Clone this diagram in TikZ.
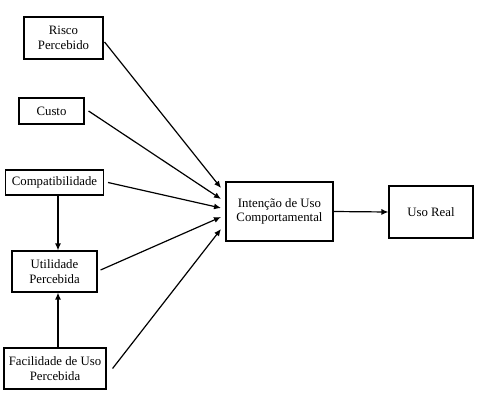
\documentclass[tikz,border=0pt]{standalone}
\usepackage{fontspec}
\setmainfont{Liberation Serif}
\usetikzlibrary{arrows.meta}
\begin{document}
\begin{tikzpicture}[x=1pt,y=-1pt,
  box/.style={draw, line width=1.1pt, align=center, inner sep=0pt, font=\fontsize{12.8}{14.5}\selectfont},
  arr/.style={line width=1.2pt, -{Latex[length=7pt,width=6pt]}}]
\useasboundingbox (0,0) rectangle (479,405);
\node[box, minimum width=79pt, minimum height=42pt] (risco) at (63.5,38) {Risco\\Percebido};
\node[box, minimum width=65pt, minimum height=26pt] (custo) at (51.5,111) {Custo};
\node[box, minimum width=98pt, minimum height=25pt] (compat) at (54.5,182.5) {Compatibilidade};
\node[box, minimum width=85pt, minimum height=41pt] (util) at (54.5,271.5) {Utilidade\\Percebida};
\node[box, minimum width=102pt, minimum height=41pt] (facil) at (55,368.5) {Facilidade de Uso\\Percebida};
\node[box, minimum width=107pt, minimum height=59pt] (int) at (279.5,211.5) {Intenção de Uso\\Comportamental};
\node[box, minimum width=84pt, minimum height=52pt] (real) at (431,212) {Uso Real};
\coordinate (e1) at (221,188);
\coordinate (e2) at (221,199);
\coordinate (e3) at (221,208);
\coordinate (e4) at (221,217);
\coordinate (e5) at (221,229);
\draw[arr] ([xshift=1pt,yshift=-4pt]risco.east) -- (e1);
\draw[arr] ([xshift=4pt]custo.east) -- (e2);
\draw[arr] ([xshift=4pt]compat.east) -- (e3);
\draw[arr] ([xshift=3pt,yshift=1.5pt]util.east) -- (e4);
\draw[arr] ([xshift=6pt]facil.east) -- (e5);
\draw[arr] (compat.south -| 58,0) -- (util.north -| 58,0);
\draw[arr] (facil.north -| 58,0) -- (util.south -| 58,0);
\draw[arr] (int.east) -- (real.west);
\end{tikzpicture}
\end{document}
